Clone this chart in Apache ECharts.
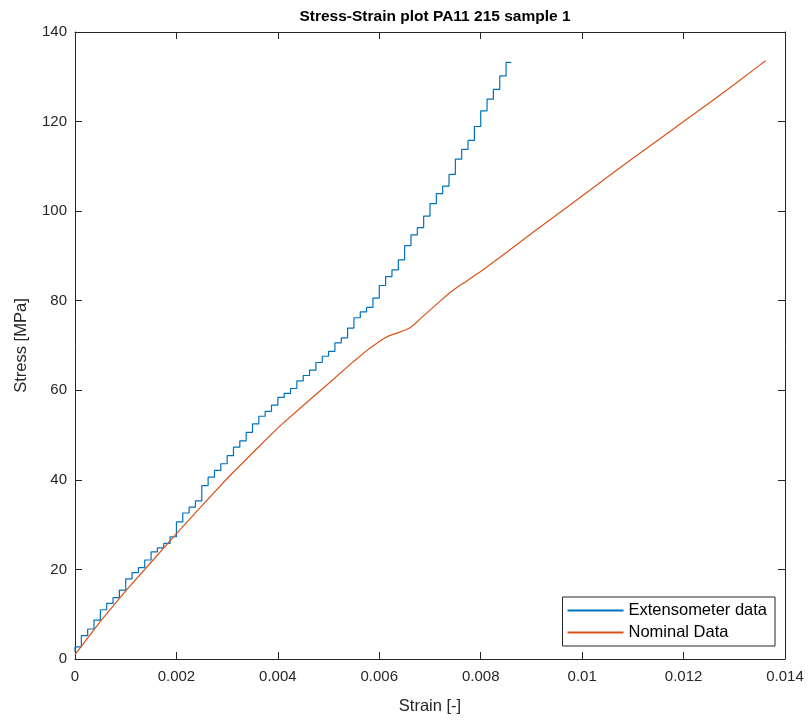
<!DOCTYPE html>
<html>
<head>
<meta charset="utf-8">
<script src="https://cdn.jsdelivr.net/npm/echarts@6/dist/echarts.min.js"></script>
<style>
  html, body { margin: 0; padding: 0; background: #fff; }
  #chart { width: 808px; height: 720px; }
</style>
</head>
<body>
<div id="chart"></div>
<script>
// ---- Data ----
var titleText = 'Stress-Strain plot PA11 215 sample 1';
var xTickValues = [0, 0.002, 0.004, 0.006, 0.008, 0.01, 0.012, 0.014];
var yTickValues = [0, 20, 40, 60, 80, 100, 120, 140];

// Extensometer data (strain is quantised by the extensometer, stress is the level after each jump)
var extStrain = [0, 0, 0.000125, 0.00025, 0.000375, 0.0005, 0.000625, 0.00075, 0.000875,
  0.001, 0.001125, 0.00125, 0.001375, 0.0015, 0.001625, 0.00175, 0.001875,
  0.002, 0.002125, 0.00225, 0.002375, 0.0025, 0.002625, 0.00275, 0.002875,
  0.003, 0.003125, 0.00325, 0.003375, 0.0035, 0.003625, 0.00375, 0.003875,
  0.004, 0.004125, 0.00425, 0.004375, 0.0045, 0.004625, 0.00475, 0.004875,
  0.005, 0.005125, 0.00525, 0.005375, 0.0055, 0.005625, 0.00575, 0.005875,
  0.006, 0.006125, 0.00625, 0.006375, 0.0065, 0.006625, 0.00675, 0.006875,
  0.007, 0.007125, 0.00725, 0.007375, 0.0075, 0.007625, 0.00775, 0.007875,
  0.008, 0.008125, 0.00825, 0.008375, 0.0085, 0.0086];
var extStress = [1.5, 2.7, 5.2, 6.7, 8.7, 11.0, 12.4, 13.7, 15.4,
  17.9, 19.3, 20.4, 22.1, 23.9, 24.8, 25.8, 27.3,
  30.6, 32.6, 33.9, 35.3, 38.7, 40.6, 42.1, 43.6,
  45.4, 47.3, 48.7, 50.6, 52.5, 54.2, 55.3, 56.7,
  58.4, 59.3, 60.4, 62.1, 63.3, 64.5, 66.2, 67.6,
  68.7, 70.6, 71.7, 73.9, 76.2, 77.5, 78.5, 80.6,
  83.4, 85.4, 86.9, 89.1, 92.3, 94.7, 96.3, 98.9,
  101.7, 103.9, 105.6, 108.2, 111.6, 113.8, 115.8, 118.9,
  122.4, 125.0, 127.2, 130.2, 133.2, 133.2];

// Nominal data
var nomStrain = [0, 0.0005, 0.001, 0.0015, 0.002, 0.0025, 0.003, 0.0035, 0.004,
  0.0045, 0.005, 0.0055, 0.0058, 0.006, 0.0061, 0.0062, 0.0063, 0.0064, 0.0065,
  0.0066, 0.0067, 0.0068, 0.007, 0.0072, 0.0074, 0.0076, 0.0077, 0.0078, 0.008,
  0.0085, 0.009, 0.0095, 0.01, 0.0105, 0.011, 0.0115, 0.012, 0.0125, 0.013,
  0.0135, 0.01362];
var nomStress = [1.0, 8.4, 15.2, 21.6, 28.0, 34.2, 40.3, 46.0, 51.6,
  56.6, 61.5, 66.5, 69.3, 70.9, 71.6, 72.2, 72.6, 73.0, 73.4,
  73.9, 74.8, 75.9, 77.9, 79.9, 81.9, 83.5, 84.2, 85.0, 86.5,
  90.7, 95.0, 99.2, 103.4, 107.6, 111.8, 115.9, 120.0, 124.1, 128.3,
  132.6, 133.6];

var seriesNames = ['Extensometer data', 'Nominal Data'];
var seriesColors = ['#0072BD', '#D95319'];

// ---- Build ----
function pairs(xs, ys) { return xs.map(function (x, i) { return [x, ys[i]]; }); }

var fontFam = '"Liberation Sans", Arial, Helvetica, sans-serif';
var axisColor = '#262626';

var chart = echarts.init(document.getElementById('chart'), null, { renderer: 'canvas' });
var xMin = xTickValues[0], xMax = xTickValues[xTickValues.length - 1];
var yMin = yTickValues[0], yMax = yTickValues[yTickValues.length - 1];
var xInt = xTickValues[1] - xTickValues[0];
var yInt = yTickValues[1] - yTickValues[0];

function xAxisDef(pos, show) {
  return {
    type: 'value', position: pos, min: xMin, max: xMax, interval: xInt,
    axisLine: { show: true, onZero: false, lineStyle: { color: axisColor, width: 1 } },
    axisTick: { show: true, inside: true, length: 7, lineStyle: { color: axisColor } },
    axisLabel: { show: show, color: axisColor, fontSize: 15, fontFamily: fontFam, margin: 10 },
    splitLine: { show: false },
    name: show ? 'Strain [-]' : '', nameLocation: 'middle', nameGap: 39,
    nameTextStyle: { color: axisColor, fontSize: 16.5, fontFamily: fontFam }
  };
}
function yAxisDef(pos, show) {
  return {
    type: 'value', position: pos, min: yMin, max: yMax, interval: yInt,
    axisLine: { show: true, onZero: false, lineStyle: { color: axisColor, width: 1 } },
    axisTick: { show: true, inside: true, length: 7, lineStyle: { color: axisColor } },
    axisLabel: { show: show, color: axisColor, fontSize: 15, fontFamily: fontFam, margin: 8 },
    splitLine: { show: false },
    name: show ? 'Stress [MPa]' : '', nameLocation: 'middle', nameGap: 45,
    nameTextStyle: { color: axisColor, fontSize: 16.5, fontFamily: fontFam }
  };
}

var option = {
  animation: false,
  backgroundColor: '#ffffff',
  title: {
    text: titleText, left: 430, top: 4, textAlign: 'center',
    textStyle: { fontSize: 15.5, fontWeight: 'bold', color: '#000', fontFamily: fontFam }
  },
  grid: { left: 75, right: 23, top: 32, bottom: 59, containLabel: false },
  xAxis: [xAxisDef('bottom', true), xAxisDef('top', false)],
  yAxis: [yAxisDef('left', true), yAxisDef('right', false)],
  legend: {
    orient: 'vertical', right: 33, bottom: 74,
    backgroundColor: '#fff', borderColor: '#262626', borderWidth: 1,
    padding: [5, 8, 5, 5], itemGap: 5, itemWidth: 56, itemHeight: 2,
    icon: 'rect',
    textStyle: { fontSize: 16.5, color: '#000', fontFamily: fontFam },
    data: seriesNames
  },
  series: [
    {
      name: seriesNames[0], type: 'line', step: 'end', xAxisIndex: 0, yAxisIndex: 0,
      data: pairs(extStrain, extStress), showSymbol: false, symbol: 'none',
      lineStyle: { color: seriesColors[0], width: 1.2 }, itemStyle: { color: seriesColors[0] }
    },
    {
      name: seriesNames[1], type: 'line', xAxisIndex: 0, yAxisIndex: 0,
      data: pairs(nomStrain, nomStress), showSymbol: false, symbol: 'none',
      smooth: false,
      lineStyle: { color: seriesColors[1], width: 1.2 }, itemStyle: { color: seriesColors[1] }
    }
  ]
};
chart.setOption(option);
</script>
</body>
</html>
